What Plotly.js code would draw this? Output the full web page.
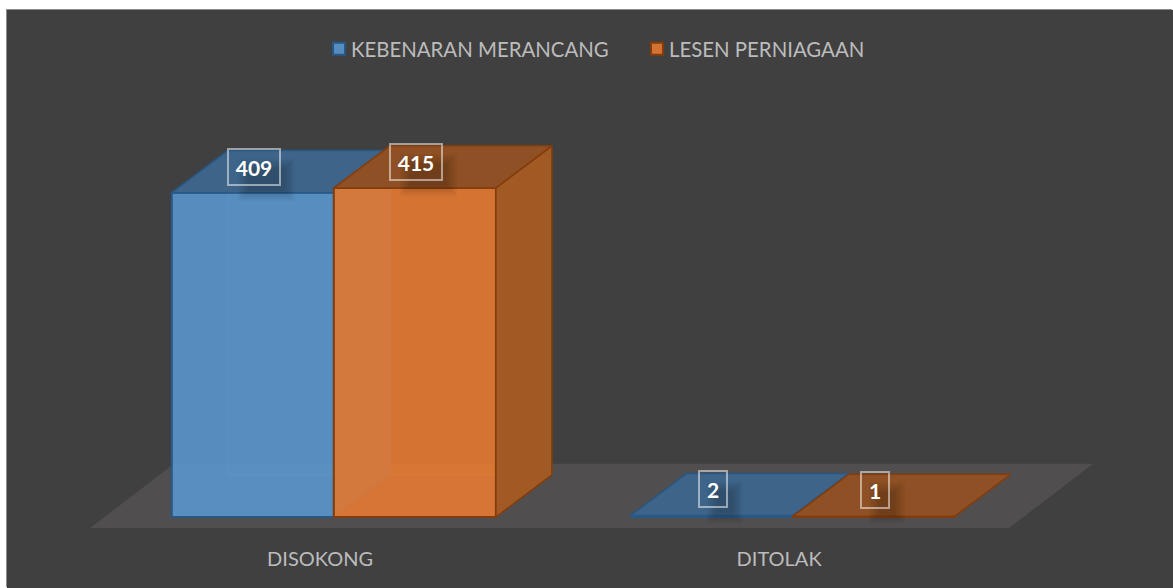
<!DOCTYPE html>
<html><head><meta charset="utf-8">
<script src="https://cdn.plot.ly/plotly-3.0.1.min.js"></script>
<style>
html,body{margin:0;padding:0;background:#fff;overflow:hidden}
#chart{position:absolute;left:7px;top:10px;width:1166px;height:578px;box-shadow:-1px -1px 0 #8c8c8c}
</style></head><body><div id="chart"></div>
<script>
var categories = ['DISOKONG', 'DITOLAK'];
var seriesNames = ['KEBENARAN MERANCANG', 'LESEN PERNIAGAAN'];
var kebenaran = [409, 2];
var lesen = [415, 1];

var FONT = 'Lato, "Open Sans", sans-serif';
var barW = 0.353, shift = 0.03;          // bar width, bar-group offset from the tick
var depthX = 0.122, depthY = 53;         // 3D depth in axis units
var floorFrontY = -13.9, floorDepthX = 0.183, floorDepthY = 81;
var xRange = [-0.682, 1.858], yRange = [-35.3, 639.3];
var styles = [
  {front:'rgba(91,155,213,0.85)', edge:'rgb(40,88,134)', top:'rgb(62,101,137)', side:'rgb(60,99,135)', back:'rgba(91,155,213,0.12)', xa:'x', ya:'y'},
  {front:'rgba(237,125,49,0.85)', edge:'rgb(132,60,12)', top:'rgb(142,80,36)', side:'rgb(162,90,37)', back:'rgba(237,125,49,0.10)', xa:'x2', ya:'y2'}
];
var seriesValues = [kebenaran, lesen];
var xs = categories.map(function(_, i){ return i; });

function face(px, py, fill, st, w){
  return {type:'scatter', mode:'lines', x:px, y:py, fill:'toself', fillcolor:fill,
    line:{color:st.edge, width:w}, xaxis:st.xa, yaxis:st.ya, showlegend:false, hoverinfo:'skip'};
}
var traces = [], shapes = [], annotations = [];

shapes.push((function(){
  var x0 = xRange[0] + (90-7)/459, x1 = x0 + (1009-90)/459;
  return {type:'path', xref:'x', yref:'y', layer:'below', line:{width:0}, fillcolor:'#504e4e',
    path:'M'+x0+','+floorFrontY+'L'+x1+','+floorFrontY+'L'+(x1+floorDepthX)+','+(floorFrontY+floorDepthY)+
         'L'+(x0+floorDepthX)+','+(floorFrontY+floorDepthY)+'Z'};
})());

seriesValues.forEach(function(vals, s){
  var st = styles[s];
  var offs = shift - barW + s*barW;
  traces.push({type:'bar', name:seriesNames[s], x:xs, y:vals, width:barW, offset:offs,
    marker:{color:st.front, line:{color:st.edge, width:2}}, xaxis:st.xa, yaxis:st.ya, hoverinfo:'skip'});
  xs.forEach(function(c, i){
    var v = vals[i], a = c+offs, b = a+barW;
    if (v > 20) {
      traces.push(face([a+depthX,b+depthX,b+depthX,a+depthX,a+depthX],[depthY,depthY,v+depthY,v+depthY,depthY], st.back,
        {edge:'rgba(255,255,255,0.05)', xa:st.xa, ya:st.ya}, 1));
      traces.push(face([b,b+depthX,b+depthX,b,b],[0,depthY,v+depthY,v,0], st.side, st, 1.5));
    }
    traces.push(face([a,b,b+depthX,a+depthX,a],[v,v,v+depthY,v+depthY,v], st.top, st, 1.5));

    var cx = (a+b)/2;
    var wide = String(v).length > 1;
    var sl = wide ? -15 : -5, sr = wide ? 42 : 31;
    for (var k=0;k<6;k++){
      shapes.push({type:'rect', layer:'above', xref:st.xa, yref:st.ya, xsizemode:'pixel', ysizemode:'pixel',
        xanchor:cx, yanchor:v, x0:sl+k*2, x1:sr-k*2, y0:-8+k*2, y1:34-k*2,
        fillcolor:'rgba(0,0,0,0.035)', line:{width:0}});
    }
    annotations.push({x:cx, y:v, xref:st.xa, yref:st.ya, yshift:26, xshift:1, showarrow:false,
      text:'<b>'+v+'</b>', font:{family:FONT, size:21, color:'#fff'},
      width: wide ? 50 : 26, height:34, align:'center', valign:'middle',
      bordercolor:'rgba(255,255,255,0.5)', borderwidth:2, borderpad:0});
  });
});

var layout = {
  width:1166, height:578, autosize:false,
  paper_bgcolor:'#404040', plot_bgcolor:'#404040',
  margin:{l:0,r:0,t:0,b:43}, font:{family:FONT, color:'#bcbcbc'},
  barmode:'overlay', showlegend:true,
  legend:{orientation:'h', x:0.2607, xanchor:'left', y:0.927, yanchor:'middle', entrywidth:273,
    font:{family:FONT, size:20.4, color:'#bcbcbc'}, bgcolor:'rgba(0,0,0,0)'},
  xaxis:{range:xRange, tickmode:'array', tickvals:xs, ticktext:categories, showgrid:false, zeroline:false,
    showline:false, ticks:'', tickfont:{family:FONT, size:20, color:'#bcbcbc'}, fixedrange:true},
  yaxis:{range:yRange, visible:false, showgrid:false, zeroline:false, fixedrange:true},
  xaxis2:{range:xRange, overlaying:'x', visible:false, fixedrange:true},
  yaxis2:{range:yRange, overlaying:'y', visible:false, fixedrange:true},
  shapes:shapes, annotations:annotations
};
Plotly.newPlot('chart', traces, layout, {displayModeBar:false, staticPlot:true}).then(function(){
  document.querySelectorAll('.legend .legendsymbols').forEach(function(g){ g.setAttribute('transform','translate(8,0)'); });
});
</script></body></html>
